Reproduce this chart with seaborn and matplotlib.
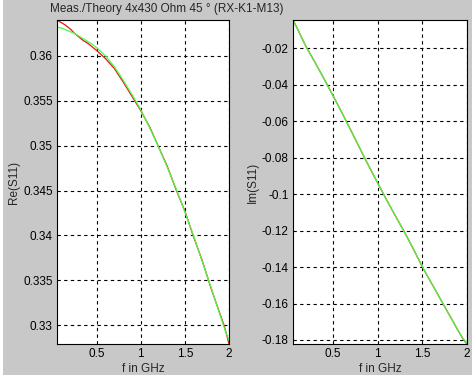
import numpy as np
import pandas as pd
import matplotlib
matplotlib.use("Agg")
import matplotlib.pyplot as plt
from matplotlib.patches import Rectangle
import seaborn as sns

# frequency grid (GHz)
freq = [0.05, 0.1, 0.15, 0.2, 0.25, 0.3, 0.35, 0.4, 0.45, 0.5, 0.6, 0.7, 0.8, 0.9, 1.0,
        1.1, 1.2, 1.3, 1.4, 1.5, 1.6, 1.7, 1.8, 1.9, 1.95, 2.0]

# Re(S11) measured (red) and theory (green)
re_meas = [0.3640, 0.3637, 0.3634, 0.3630, 0.3625, 0.3621, 0.3617, 0.3614, 0.3610, 0.3606,
           0.3597, 0.3586, 0.3571, 0.3555, 0.3539, 0.3521, 0.3499, 0.3477, 0.3451, 0.3427,
           0.3398, 0.3371, 0.3340, 0.3312, 0.3298, 0.3279]
re_theo = [0.3632, 0.3631, 0.3629, 0.3627, 0.3625, 0.3622, 0.3619, 0.3616, 0.3613, 0.3609,
           0.3600, 0.3588, 0.3573, 0.3557, 0.3540, 0.3520, 0.3499, 0.3476, 0.3452, 0.3426,
           0.3399, 0.3370, 0.3341, 0.3311, 0.3296, 0.3283]

# Im(S11) measured (red) and theory (green)
im_meas = [-0.0046, -0.0094, -0.0145, -0.0196, -0.0238, -0.0281, -0.0326, -0.0370, -0.0416, -0.0462,
           -0.0556, -0.0652, -0.0750, -0.0847, -0.0941, -0.1033, -0.1122, -0.1209, -0.1302, -0.1400,
           -0.1487, -0.1574, -0.1661, -0.1748, -0.1790, -0.1822]
im_theo = [-0.0047, -0.0095, -0.0146, -0.0196, -0.0239, -0.0282, -0.0326, -0.0371, -0.0416, -0.0462,
           -0.0557, -0.0653, -0.0750, -0.0846, -0.0940, -0.1032, -0.1122, -0.1210, -0.1302, -0.1399,
           -0.1487, -0.1574, -0.1661, -0.1747, -0.1788, -0.1818]

title_text = "Meas./Theory 4x430 Ohm 45 ° (RX-K1-M13)"
x_ticks = [0.5, 1, 1.5, 2]
re_ticks = [0.33, 0.335, 0.34, 0.345, 0.35, 0.355, 0.36]
im_ticks = [-0.18, -0.16, -0.14, -0.12, -0.1, -0.08, -0.06, -0.04, -0.02]

sns.set_style("white")
plt.rcParams['font.family'] = ['Liberation Sans', 'DejaVu Sans']
plt.rcParams['font.size'] = 8.5

W, H = 477, 380
fig = plt.figure(figsize=(W / 100, H / 100), dpi=100)
fig.patch.set_facecolor("white")
fig.patches.append(Rectangle((3 / W, 5 / H), 469 / W, 375 / H, transform=fig.transFigure,
                             facecolor="#c8c8c8", edgecolor="none", zorder=-10))

df = pd.DataFrame({"f": freq, "re_meas": re_meas, "re_theo": re_theo,
                   "im_meas": im_meas, "im_theo": im_theo})

ax1 = fig.add_axes([57 / W, 36 / H, 172 / W, 324 / H])
ax2 = fig.add_axes([293 / W, 36 / H, 174 / W, 324 / H])

for ax, meas, theo, ticks, lim, lab in [
        (ax1, "re_meas", "re_theo", re_ticks, (0.3279, 0.3640), "Re(S11)"),
        (ax2, "im_meas", "im_theo", im_ticks, (-0.1822, -0.0046), "Im(S11)")]:
    sns.lineplot(data=df, x="f", y=meas, ax=ax, color="#ee1010", lw=0.9)
    sns.lineplot(data=df, x="f", y=theo, ax=ax, color="#44ff44", lw=0.9)
    ax.set_xlim(0.05, 2)
    ax.set_ylim(*lim)
    ax.set_xticks(x_ticks)
    ax.set_xticklabels(["0.5", "1", "1.5", "2"])
    ax.set_yticks(ticks)
    ax.set_yticklabels([f"{t:g}" for t in ticks])
    ax.grid(True, color="black", linestyle=(0, (3, 3)), linewidth=0.8)
    ax.tick_params(direction="in", length=3, width=0.6, labelsize=8.5, colors="black", pad=3)
    for s in ax.spines.values():
        s.set_color("black")
        s.set_linewidth(0.8)
    ax.set_xlabel("f in GHz", fontsize=8.5, labelpad=2)
    ax.set_ylabel(lab, fontsize=8.5, labelpad=2)
    ax.set_facecolor("white")

fig.text(167 / W, 1 - 9 / H, title_text, ha="center", va="center", fontsize=8.5)

fig.savefig("out.png", dpi=100)
